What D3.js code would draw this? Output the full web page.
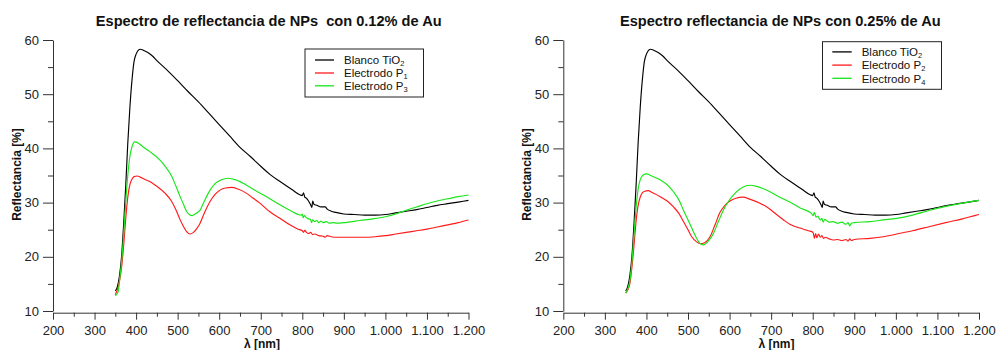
<!DOCTYPE html>
<html>
<head>
<meta charset="utf-8">
<script src="https://cdn.jsdelivr.net/npm/d3@7"></script>
<style>
  html, body { margin: 0; padding: 0; background: #fff; }
  svg { display: block; font-family: "Liberation Sans", Arial, Helvetica, sans-serif; }
</style>
</head>
<body>
<svg id="chart" width="996" height="350"></svg>
<script>
// Wavelength axis ticks (nm) and reflectance ticks (%)
const xMajorTicks = [200, 300, 400, 500, 600, 700, 800, 900, 1000, 1100, 1200];
const xMinorTicks = [250, 350, 450, 550, 650, 750, 850, 950, 1050, 1150];
const yMajorTicks = [10, 20, 30, 40, 50, 60];
const yMinorTicks = [15, 25, 35, 45, 55];

// Blanco TiO2 (shared by both panels)
const blancoNm = [350,355,360,365,370,375,380,385,390,395,400,405,410,415,420,430,440,450,474,500,525,550,575,600,625,650,675,700,722,750,775,795,800,803,806,810,815,820,823,825,828,835,845,855,860,870,880,900,925,950,975,1000,1025,1050,1075,1100,1125,1150,1175,1200];
const blancoR  = [13.7,14.5,16.5,20,26,33,41,47.5,52.5,56,57.4,58.1,58.3,58.2,58.0,57.6,57.0,56.2,54.5,52.5,50.5,48.6,46.5,44.4,42.3,40.2,38.5,36.7,35.2,33.7,32.4,31.4,31.3,31.8,31.0,30.8,30.3,29.6,29.1,30.3,29.7,29.5,29.2,29.2,28.8,28.4,28.2,27.9,27.8,27.7,27.7,27.8,28.1,28.4,28.7,29.1,29.5,29.8,30.1,30.4];

// Electrodo P1 (0.12 % Au)
const p1Nm = [350,357,360,365,370,375,380,385,390,395,403,410,420,433,450,470,485,498,505,514,522,530,538,546,554,565,578,590,602,615,630,645,666,680,698,722,746,770,790,800,803,806,810,815,820,825,830,840,850,855,860,870,880,900,950,975,1000,1025,1050,1075,1100,1125,1150,1175,1200];
const p1R  = [13.0,14.5,15.5,18,22,27,31,33.3,34.3,34.8,34.9,34.7,34.3,33.9,33.0,31.7,30.3,28.3,27.0,25.6,24.6,24.2,24.5,25.2,26.2,28.2,30.2,31.5,32.3,32.7,32.8,32.5,31.7,30.9,29.9,28.3,27.1,25.9,25.1,24.8,24.5,24.9,24.5,24.3,24.5,24.1,24.2,23.9,23.8,23.6,23.9,23.7,23.6,23.6,23.6,23.7,23.9,24.2,24.5,24.8,25.1,25.5,25.9,26.3,26.8];

// Electrodo P3 (0.12 % Au)
const p3Nm = [350,357,360,365,370,375,380,385,390,397,405,415,433,457,470,486,496,506,515,522,528,535,542,554,565,578,590,605,622,640,666,690,714,746,770,798,800,802,805,810,815,820,822,825,830,835,840,845,850,858,865,875,883,900,939,970,1000,1025,1050,1075,1100,1125,1150,1175,1200];
const p3R  = [12.8,13.6,15.5,19,24,30,35,38.5,40.3,41.2,41.0,40.4,39.4,37.9,36.7,34.8,33.0,31.1,29.5,28.3,27.8,27.6,27.9,28.6,30.4,32.3,33.5,34.2,34.5,34.2,33.2,32.1,31.1,29.6,28.6,27.7,27.9,27.2,27.6,27.2,27.0,26.9,26.3,26.8,26.5,26.7,26.3,26.6,26.3,26.5,26.2,26.3,26.2,26.3,26.7,27.0,27.4,27.9,28.6,29.2,29.8,30.3,30.7,31.1,31.4];

// Electrodo P2 (0.25 % Au)
const p2Nm = [350,360,365,370,375,380,385,390,396,404,415,433,450,465,478,489,500,509,520,530,540,553,565,577,590,601,615,632,650,673,695,713,730,745,769,790,801,804,807,810,814,818,822,826,830,840,849,860,870,880,885,889,893,900,938,970,1002,1040,1082,1120,1160,1200];
const p2R  = [13.3,15,18,22,26.5,29.5,31,31.8,32.1,32.2,31.8,31.1,30.3,29.2,28.0,26.5,25.0,23.7,22.8,22.4,22.6,23.7,25.9,28.2,29.6,30.3,30.8,31.0,30.6,29.9,28.9,27.8,26.8,26.0,25.3,24.8,24.5,23.4,24.3,23.5,24.2,23.6,23.9,23.4,23.6,23.3,23.1,23.2,23.0,23.2,22.9,23.3,23.0,23.2,23.4,23.7,24.2,24.8,25.6,26.3,27.0,27.8];

// Electrodo P4 (0.25 % Au)
const p4Nm = [350,360,365,370,375,380,385,392,400,410,433,450,465,478,489,500,509,520,530,537,545,553,561,573,585,597,609,625,640,649,665,680,697,721,745,770,797,801,804,808,812,818,822,825,829,835,840,849,860,870,880,885,889,893,900,938,970,1002,1040,1082,1120,1160,1200];
const p4R  = [13.3,15.5,19,24,29,32.5,34.2,35.1,35.3,35.0,34.2,33.3,32.0,30.5,28.6,26.8,25.3,23.5,22.4,22.2,22.6,23.3,24.3,26.5,28.6,30.2,31.4,32.5,33.1,33.2,33.0,32.6,32.0,31.0,30.1,29.0,28.0,27.6,28.2,27.3,27.5,26.8,27.1,26.4,26.9,26.6,26.4,26.5,26.2,26.4,26.0,26.3,25.7,26.2,26.3,26.5,26.8,27.1,27.7,28.6,29.3,29.9,30.4];

const blancoLabel = ["Blanco TiO", "2"];

const colBlack = "#000000";
const colRed = "#ff1a1a";
const colGreen = "#19e619";

const panels = [
  {
    title: "Espectro de reflectancia de NPs  con 0.12% de Au",
    titleX: 268.7,
    xRange: [53, 468.5],
    yLabelX: 20.5,
    xLabelX: 262,
    legend: { x: 305, y: 49, w: 118.5, h: 48, lineX0: 315, lineX1: 334, textX: 344, rows: [60, 73, 85.8] },
    series: [
      { nm: blancoNm, r: blancoR, color: colBlack, label: blancoLabel },
      { nm: p1Nm, r: p1R, color: colRed, label: ["Electrodo P", "1"] },
      { nm: p3Nm, r: p3R, color: colGreen, label: ["Electrodo P", "3"] }
    ]
  },
  {
    title: "Espectro reflectancia de NPs con 0.25% de Au",
    titleX: 780.3,
    xRange: [563.3, 979],
    yLabelX: 531,
    xLabelX: 776.5,
    legend: { x: 822.5, y: 41.7, w: 119, h: 47.6, lineX0: 832.3, lineX1: 851.7, textX: 861.7, rows: [51.9, 65.1, 78.3] },
    series: [
      { nm: blancoNm, r: blancoR, color: colBlack, label: blancoLabel },
      { nm: p2Nm, r: p2R, color: colRed, label: ["Electrodo P", "2"] },
      { nm: p4Nm, r: p4R, color: colGreen, label: ["Electrodo P", "4"] }
    ]
  }
];

const svg = d3.select("#chart");
const locale = d3.formatLocale({ decimal: ",", thousands: ".", grouping: [3], currency: ["", ""] });
const fmtX = locale.format(",d");

const y = d3.scaleLinear().domain([10, 60]).range([311, 40]);
const xAxisY = 312.7;

panels.forEach(p => {
  const x = d3.scaleLinear().domain([200, 1200]).range(p.xRange);
  const g = svg.append("g");

  // title (keeps the double space)
  g.append("text")
    .attr("x", p.titleX).attr("y", 26)
    .attr("text-anchor", "middle")
    .attr("font-size", 14.6).attr("font-weight", "bold").attr("fill", "#111")
    .style("white-space", "pre")
    .text(p.title);

  // y axis
  g.append("g").attr("transform", `translate(${p.xRange[0]},0)`)
    .call(d3.axisLeft(y).tickValues(yMajorTicks).tickSize(10).tickSizeOuter(0).tickPadding(4));
  g.append("g").attr("transform", `translate(${p.xRange[0]},0)`)
    .call(d3.axisLeft(y).tickValues(yMinorTicks).tickSize(5).tickFormat(""))
    .call(s => s.select(".domain").remove());

  // x axis
  g.append("g").attr("transform", `translate(0,${xAxisY})`)
    .call(d3.axisBottom(x).tickValues(xMajorTicks).tickFormat(fmtX).tickSize(7).tickSizeOuter(0).tickPadding(6));
  g.append("g").attr("transform", `translate(0,${xAxisY})`)
    .call(d3.axisBottom(x).tickValues(xMinorTicks).tickSize(4).tickFormat(""))
    .call(s => s.select(".domain").remove());

  g.selectAll(".tick text").attr("font-size", 13).attr("fill", "#222")
    .attr("font-family", "'Liberation Sans', Arial, sans-serif");
  g.selectAll(".domain, .tick line").attr("stroke", "#333");

  // axis titles
  g.append("text")
    .attr("transform", `translate(${p.yLabelX},174.5) rotate(-90)`)
    .attr("text-anchor", "middle")
    .attr("font-size", 12).attr("font-weight", "bold").attr("fill", "#111")
    .text("Reflectancia [%]");
  g.append("text")
    .attr("x", p.xLabelX).attr("y", 347.5)
    .attr("text-anchor", "middle")
    .attr("font-size", 12).attr("font-weight", "bold").attr("fill", "#111")
    .text("λ [nm]");

  // spectra
  const line = d3.line()
    .x(d => x(d[0])).y(d => y(d[1]))
    .curve(d3.curveMonotoneX);
  p.series.forEach(s => {
    const pts = s.nm.map((v, i) => [v, s.r[i]]);
    g.append("path")
      .datum(pts)
      .attr("d", line)
      .attr("fill", "none")
      .attr("stroke", s.color)
      .attr("stroke-width", 1.15)
      .attr("stroke-linejoin", "round");
  });

  // legend
  const L = p.legend;
  const lg = g.append("g");
  lg.append("rect")
    .attr("x", L.x).attr("y", L.y).attr("width", L.w).attr("height", L.h)
    .attr("fill", "#fff").attr("stroke", "#222").attr("stroke-width", 1);
  p.series.forEach((s, i) => {
    const ry = L.rows[i];
    lg.append("line")
      .attr("x1", L.lineX0).attr("x2", L.lineX1)
      .attr("y1", ry).attr("y2", ry)
      .attr("stroke", s.color).attr("stroke-width", 1.3);
    const t = lg.append("text")
      .attr("x", L.textX).attr("y", ry + 4.2)
      .attr("font-size", 11.5).attr("fill", "#111");
    t.append("tspan").text(s.label[0]);
    t.append("tspan").attr("font-size", 7.5).attr("dy", 2).text(s.label[1]);
  });
});
</script>
</body>
</html>
